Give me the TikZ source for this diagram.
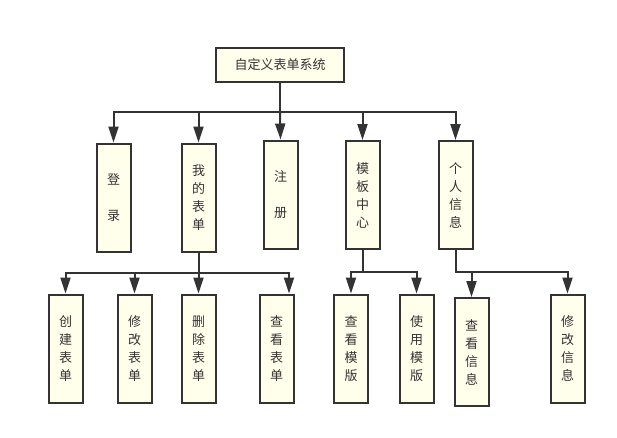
\documentclass[tikz,border=0pt]{standalone}
\usepackage{fontspec}
\usepackage{tikz}
\usetikzlibrary{arrows.meta}
\newfontfamily\cjk{Noto Sans CJK SC}
\definecolor{boxfill}{RGB}{255,255,235}
\definecolor{darkline}{RGB}{51,51,51}

\begin{document}
\begin{tikzpicture}[x=1pt,y=-1pt,
    every node/.style={font=\cjk\fontsize{13}{18}\selectfont, text=darkline},
    box/.style={draw=darkline, fill=boxfill, line width=2pt, inner sep=0pt, align=center},
    col/.style={box, minimum width=34pt, minimum height=108pt},
    arr/.style={draw=darkline, line width=2pt, -{Triangle[width=10pt,length=16pt]}}]
    \useasboundingbox (0,0) rectangle (617,437);

    \node[box, minimum width=128pt, minimum height=34pt] (sys) at (280,65) {自定义表单系统};

    \node[col] (login) at (113.5,197.5) {登\\[18pt]录};
    \node[col] (myform) at (198.5,197.5) {我\\的\\表\\单};
    \node[col] (reg) at (280.5,194.5) {注\\[18pt]册};
    \node[col] (tpl) at (362.5,195) {模\\板\\中\\心};
    \node[col] (info) at (455.5,195) {个\\人\\信\\息};

    \node[col] (create) at (65.5,348.5) {创\\建\\表\\单};
    \node[col] (edit) at (134.5,348.5) {修\\改\\表\\单};
    \node[col] (del) at (198.5,348.5) {删\\除\\表\\单};
    \node[col] (view) at (276.5,348.5) {查\\看\\表\\单};
    \node[col] (tview) at (351,348.5) {查\\看\\模\\版};
    \node[col] (tuse) at (416.5,348.5) {使\\用\\模\\版};
    \node[col] (iview) at (471.5,352) {查\\看\\信\\息};
    \node[col] (iedit) at (567.5,348.5) {修\\改\\信\\息};

    \coordinate (bus) at (280,112);
    \coordinate (mbus) at (198.5,273);
    \coordinate (tbus) at (362.5,272);
    \coordinate (ibus) at (455.5,272);

    \draw[arr] (sys.south) -- (bus) -| (login.north);
    \draw[arr] (bus) -| (myform.north);
    \draw[arr] (bus) -- (reg.north);
    \draw[arr] (bus) -| (tpl.north);
    \draw[arr] (bus) -| (info.north);

    \draw[arr] (myform.south) -- (mbus) -| (create.north);
    \draw[arr] (mbus) -| (edit.north);
    \draw[arr] (mbus) -- (del.north);
    \draw[arr] (mbus) -| ([xshift=12.5pt]view.north);

    \draw[arr] (tpl.south) -- (tbus) -| (tview.north);
    \draw[arr] (tbus) -| (tuse.north);

    \draw[arr] (info.south) -- (ibus) -| (iview.north);
    \draw[arr] (ibus) -| (iedit.north);
\end{tikzpicture}
\end{document}
